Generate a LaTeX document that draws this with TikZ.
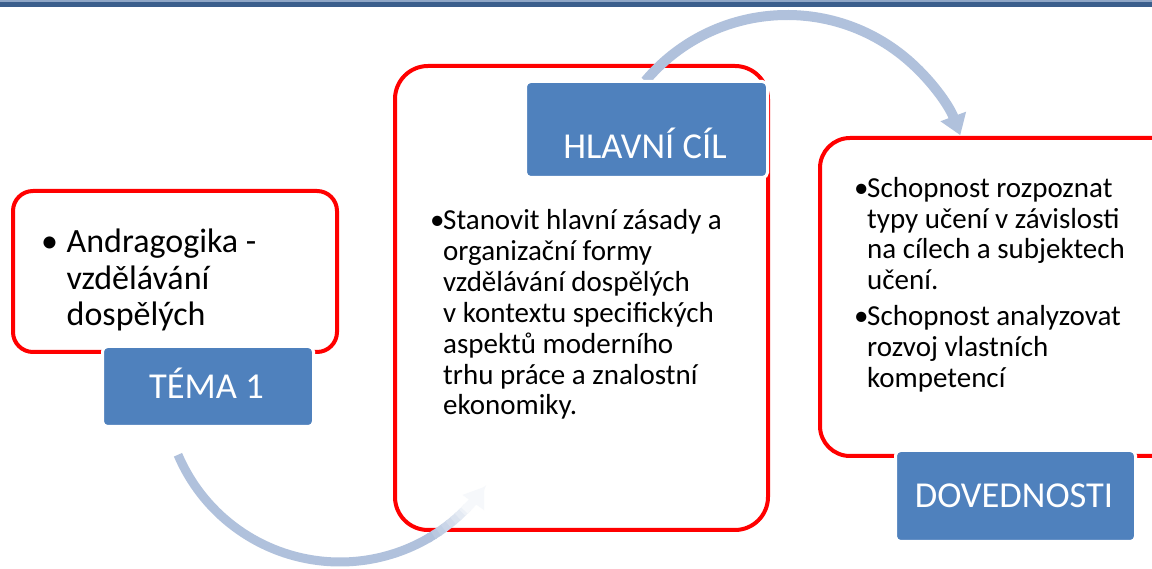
\documentclass[tikz,border=0pt]{standalone}
\usepackage{fontspec}
\setmainfont{Carlito}
\usetikzlibrary{arrows.meta}
\definecolor{accblue}{HTML}{4F81BD}
\definecolor{arcblue}{HTML}{B0C1DC}
\definecolor{bardark}{HTML}{3B5E8C}
\definecolor{barlight}{HTML}{8FA6C6}
\begin{document}
\begin{tikzpicture}[x=1pt,y=1pt,
  redbox/.style={draw=red, line width=4pt, fill=white, inner sep=0pt, anchor=south west},
  bluebox/.style={draw=white, line width=3pt, fill=accblue, rounded corners=5pt, inner sep=0pt, anchor=south west},
  head/.style={text=white, font=\fontsize{36.5}{40}\selectfont, inner sep=0pt, anchor=base},
  big/.style={font=\fontsize{34}{37}\selectfont, inner sep=0pt, anchor=base west},
  body/.style={font=\fontsize{29}{31}\selectfont, inner sep=0pt, anchor=base west},
  arcline/.style={draw=arcblue, line width=10pt},
]
\useasboundingbox (0,0) rectangle (1152,568);
\clip (0,0) rectangle (1152,568);
\fill[white] (0,0) rectangle (1152,568);
\fill[barlight] (0,566) rectangle (1152,568);
\fill[bardark] (0,561) rectangle (1152,566);

% red content boxes
\node[redbox, rounded corners=20pt, minimum width=324pt, minimum height=161pt] (box1) at (11,214) {};
\node[redbox, rounded corners=33pt, minimum width=373pt, minimum height=464pt] (box2) at (393,36) {};
\node[redbox, rounded corners=30pt, minimum width=362pt, minimum height=318pt] (box3) at (818,110) {};

% bottom arrow (fading)
\coordinate (c1) at (340,182);
\draw[arcline, line width=9pt] (c1) ++(203:176) arc[start angle=203, end angle=301, radius=176];
\foreach \i in {0,...,7} {
  \pgfmathsetmacro\pct{100-11*\i}
  \draw[draw=arcblue!\pct!white, line width=9pt] (c1) ++({300+2*\i}:176) arc[start angle={300+2*\i}, end angle={302.5+2*\i}, radius=176];
}
\draw[draw=arcblue!12!white, line width=9pt, -{Triangle[width=25pt,length=19pt]}] (c1) ++(315:176) arc[start angle=315, end angle=325, radius=176];

% top arrow
\coordinate (c2) at (787,368);
\draw[arcline, -{Triangle[width=26pt,length=20pt]}] (c2) ++(140:185) arc[start angle=140, end angle=20.5, radius=185];

% blue title boxes
\node[bluebox, minimum width=211pt, minimum height=80pt] (tema) at (101,140) {};
\node[bluebox, minimum width=242pt, minimum height=96pt] (cil) at (524,389) {};
\node[bluebox, minimum width=240pt, minimum height=91pt] (dov) at (894,25) {};
\node[head] (temat) at (206.5,169) {TÉMA 1};
\node[head] (cilt) at (645,409) {HLAVNÍ CÍL};
\node[head] (dovt) at (1014,60) {DOVEDNOSTI};

% box 1 text
\node[big] (b1bul) at (41,315.3) {•};
\node[big] (b1a) at (66.5,315.3) {Andragogika -};
\node[big] (b1b) at (66.5,278.6) {vzdělávání};
\node[big] (b1c) at (66.5,242) {dospělých};

% box 2 text
\node[body] (mbul) at (430,338) {•};
\foreach \t [count=\i] in {Stanovit hlavní zásady a, organizační formy, vzdělávání dospělých, v kontextu specifických, aspektů moderního, trhu práce a znalostní, ekonomiky.}
  \node[body] (m\i) at (443,{338-30.83*(\i-1)}) {\t};

% box 3 text
\node[body] (rbula) at (854,370) {•};
\node[body] (rbulb) at (854,242) {•};
\node[body] (r1) at (867,370) {Schopnost rozpoznat};
\node[body] (r2) at (867,339.5) {typy učení v závislosti};
\node[body] (r3) at (867,309) {na cílech a subjektech};
\node[body] (r4) at (867,278.5) {učení.};
\node[body] (r5) at (867,242) {Schopnost analyzovat};
\node[body] (r6) at (867,211.3) {rozvoj vlastních};
\node[body] (r7) at (867,180.6) {kompetencí};
\end{tikzpicture}
\end{document}
